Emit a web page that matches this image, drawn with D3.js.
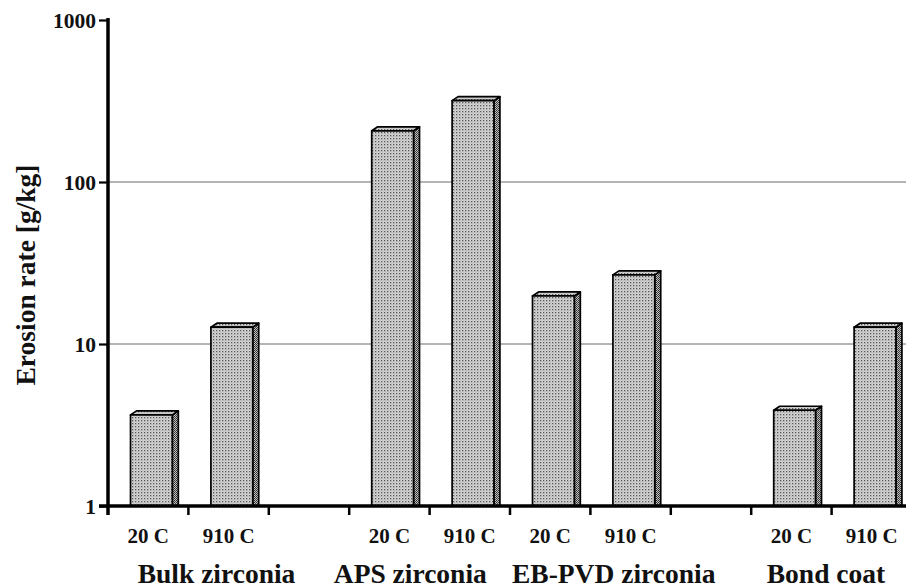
<!DOCTYPE html>
<html>
<head>
<meta charset="utf-8">
<script src="https://cdn.jsdelivr.net/npm/d3@7"></script>
<style>
  html, body { margin: 0; padding: 0; background: #fff; }
  svg { display: block; }
  text { font-family: "Liberation Serif", "Times New Roman", serif; font-weight: bold; fill: #111; }
</style>
</head>
<body>
<svg id="chart" width="906" height="588"></svg>
<script>
// Erosion rate [g/kg] of each coating at two test temperatures
const groupNames = ["Bulk zirconia", "APS zirconia", "EB-PVD zirconia", "Bond coat"];
const tempLabels = ["20 C", "910 C"];
const erosion20C = [3.65, 207, 19.8, 3.9];
const erosion910C = [12.7, 318, 26.7, 12.7];
const yTicks = [1, 10, 100, 1000];
const gridValues = [10, 100];

// Layout: slot index of each group's first bar (empty slots separate some groups)
const groupFirstSlot = [0, 3, 5, 8];
const slotCount = 10;
const groupLabelShift = [1.35, 3.76, 6.29, 8.93]; // label centre, in slot units

const svg = d3.select("#chart");
const W = 906, H = 588;
const x0 = 108, xAxisY = 506, yTop = 20, slotW = 80.4;

const x = d3.scaleBand().domain(d3.range(slotCount)).range([x0, x0 + slotW * slotCount]).padding(0);
const y = d3.scaleLog().domain([1, 1000]).range([xAxisY, yTop]);
const bw = x.bandwidth();

// Bar records built from the value arrays
const bars = [];
groupNames.forEach((g, i) => {
  [erosion20C[i], erosion910C[i]].forEach((v, j) => {
    bars.push({ group: g, temp: tempLabels[j], value: v, slot: groupFirstSlot[i] + j });
  });
});

// Stipple fills for front and side faces
const defs = svg.append("defs");
const front = defs.append("pattern").attr("id", "dotsFront").attr("patternUnits", "userSpaceOnUse")
  .attr("width", 3).attr("height", 3);
front.append("rect").attr("width", 3).attr("height", 3).attr("fill", "#d6d6d6");
front.append("rect").attr("width", 1.3).attr("height", 1.3).attr("fill", "#555");
front.append("rect").attr("x", 1.5).attr("y", 1.5).attr("width", 1).attr("height", 1).attr("fill", "#9c9c9c");

const side = defs.append("pattern").attr("id", "dotsSide").attr("patternUnits", "userSpaceOnUse")
  .attr("width", 2).attr("height", 2);
side.append("rect").attr("width", 2).attr("height", 2).attr("fill", "#c0c0c0");
side.append("rect").attr("width", 1).attr("height", 1).attr("fill", "#2e2e2e");
side.append("rect").attr("x", 1).attr("y", 1).attr("width", 1).attr("height", 1).attr("fill", "#444");

// Gridlines
svg.append("g").selectAll("line").data(gridValues).join("line")
  .attr("x1", x0).attr("x2", W)
  .attr("y1", d => y(d)).attr("y2", d => y(d))
  .attr("stroke", "#6a6a6a").attr("stroke-width", 1);

// 3D bars
const depthX = 6, depthY = 4;
const frontOffset = 0.28 * bw, frontW = 0.52 * bw;
const bg = svg.append("g").attr("stroke", "#000").attr("stroke-width", 1.7).attr("stroke-linejoin", "round");
bars.forEach(d => {
  const xl = x(d.slot) + frontOffset, xr = xl + frontW;
  const yt = y(d.value), yb = y(1);
  // side face
  bg.append("path")
    .attr("d", `M${xr},${yb} L${xr},${yt} L${xr + depthX},${yt - depthY} L${xr + depthX},${yb} Z`)
    .attr("fill", "url(#dotsSide)");
  // top face
  bg.append("path")
    .attr("d", `M${xl},${yt} L${xl + depthX},${yt - depthY} L${xr + depthX},${yt - depthY} L${xr},${yt} Z`)
    .attr("fill", "url(#dotsFront)");
  // front face
  bg.append("rect").attr("x", xl).attr("y", yt).attr("width", frontW).attr("height", yb - yt)
    .attr("fill", "url(#dotsFront)");
});

// Y axis
const yAxis = d3.axisLeft(y).tickValues(yTicks).tickFormat(d3.format("d")).tickSize(9).tickPadding(3);
const ya = svg.append("g").attr("transform", `translate(${x0},0)`).call(yAxis);
ya.select(".domain").remove();
ya.selectAll(".tick line").attr("stroke", "#000").attr("stroke-width", 2.2);
ya.selectAll(".tick text").style("font-size", "21.5px").attr("fill", "#111")
  .style("font-family", "'Liberation Serif', serif").style("font-weight", "bold").attr("dy", "0.34em");
svg.append("line").attr("x1", x0).attr("x2", x0).attr("y1", yTop - 2).attr("y2", xAxisY + 9)
  .attr("stroke", "#000").attr("stroke-width", 3.5);

// X axis
svg.append("line").attr("x1", x0 - 9).attr("x2", W).attr("y1", xAxisY).attr("y2", xAxisY)
  .attr("stroke", "#000").attr("stroke-width", 3.5);
svg.append("g").selectAll("line").data(d3.range(1, slotCount)).join("line")
  .attr("x1", d => x(d)).attr("x2", d => x(d))
  .attr("y1", xAxisY).attr("y2", xAxisY + 9)
  .attr("stroke", "#000").attr("stroke-width", 2.5);

// Temperature labels under each bar
svg.append("g").selectAll("text").data(bars).join("text")
  .attr("x", d => x(d.slot) + bw / 2).attr("y", 543)
  .attr("text-anchor", "middle").style("font-size", "21px")
  .text(d => d.temp);

// Group labels
svg.append("g").selectAll("text").data(groupNames).join("text")
  .attr("x", (d, i) => x0 + groupLabelShift[i] * slotW).attr("y", 583)
  .attr("text-anchor", "middle").style("font-size", "27.5px")
  .text(d => d);

// Y axis title
svg.append("text")
  .attr("transform", `translate(35,${(y(1) + y(1000)) / 2 + 12}) rotate(-90)`)
  .attr("text-anchor", "middle").style("font-size", "27.5px")
  .text("Erosion rate [g/kg]");
</script>
</body>
</html>
